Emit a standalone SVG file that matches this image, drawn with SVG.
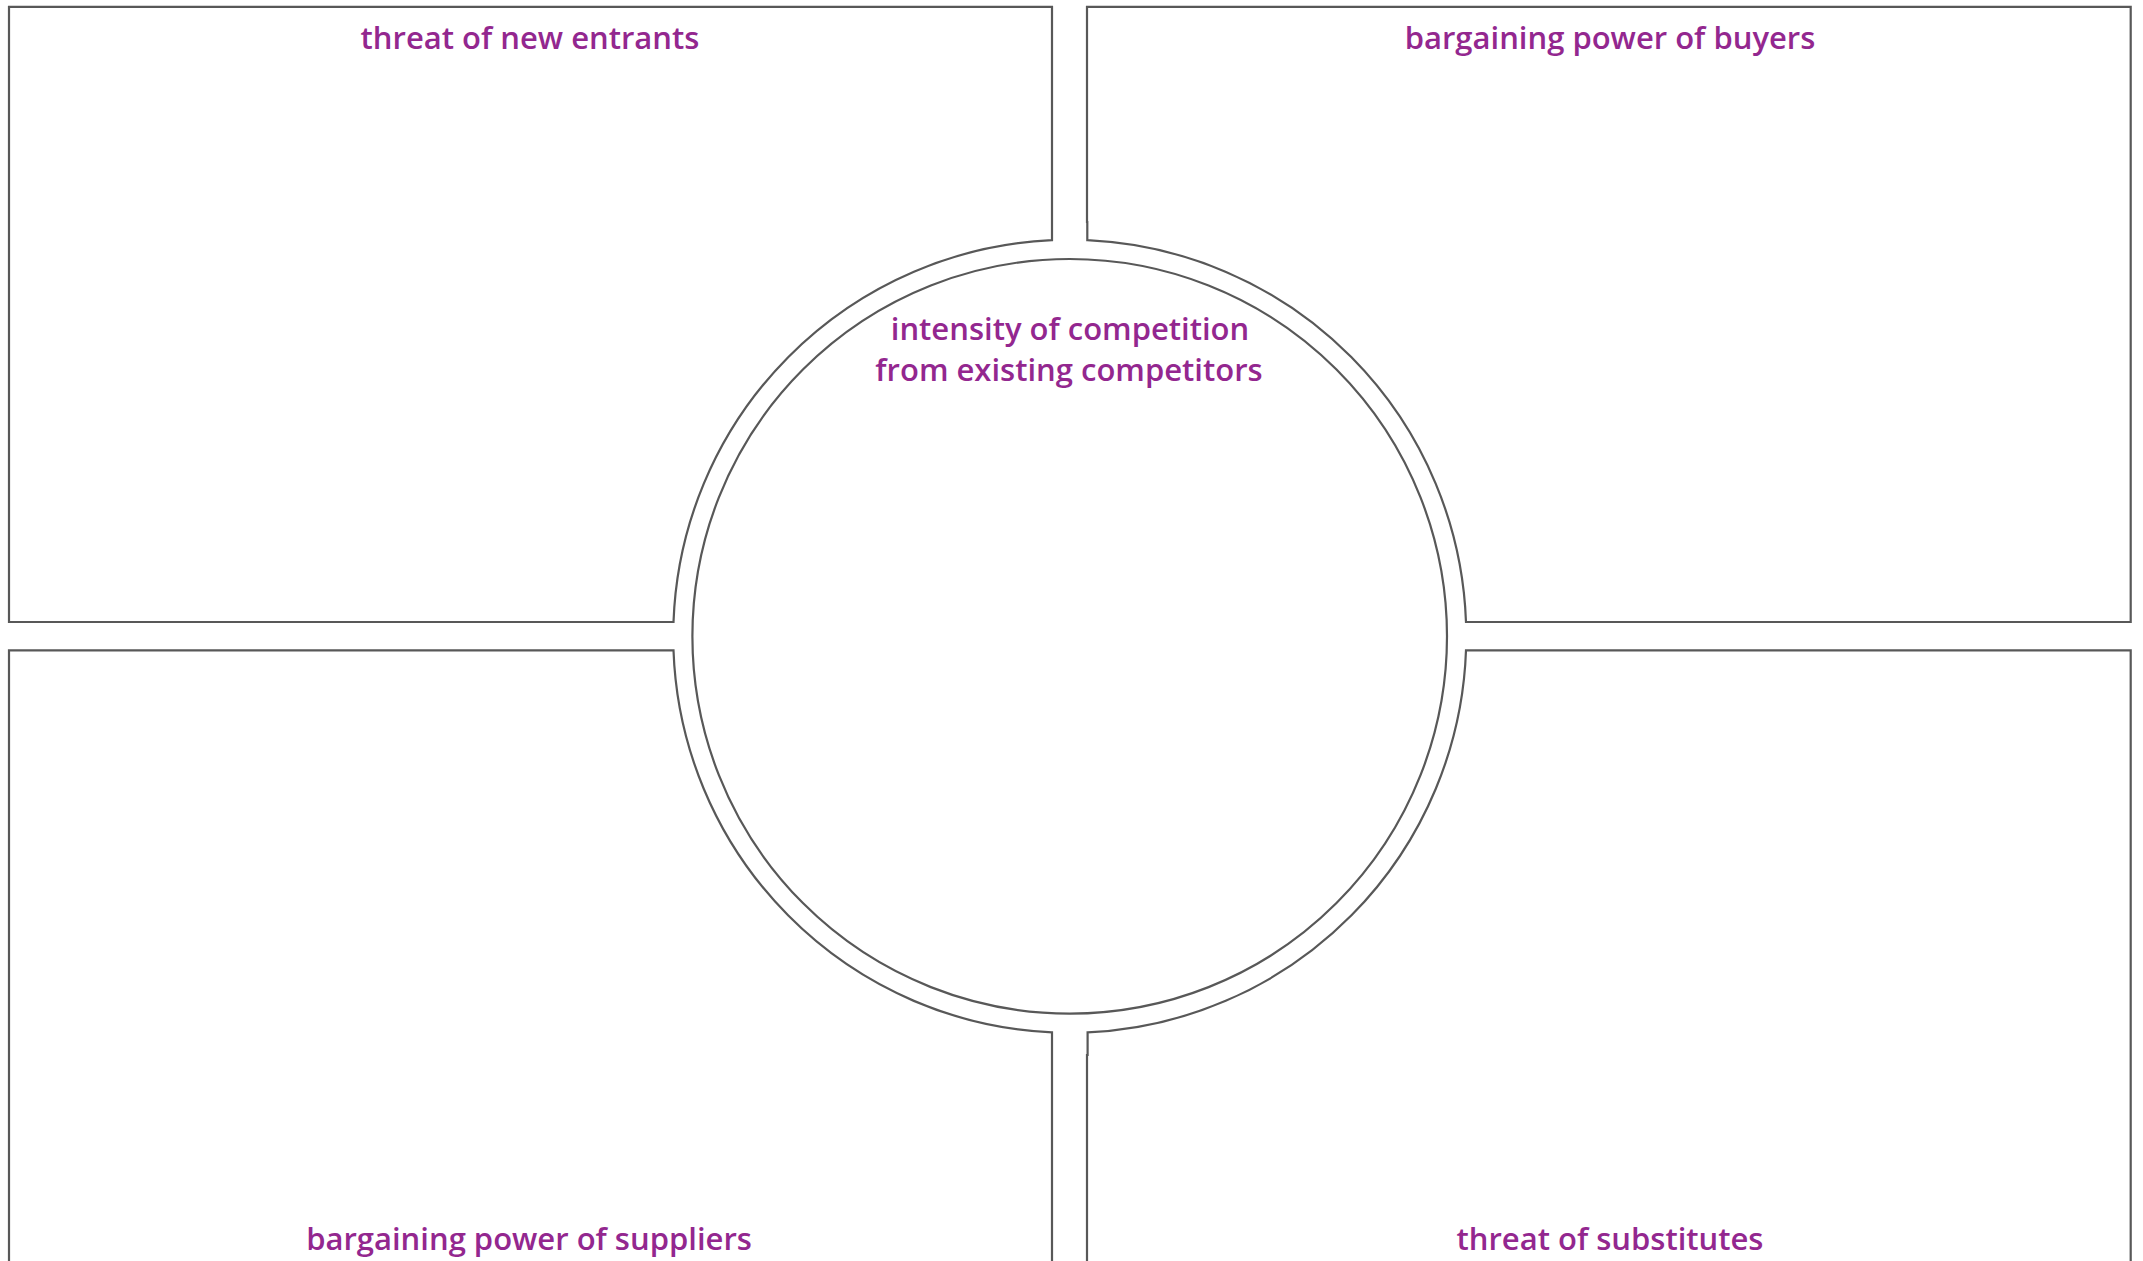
<svg xmlns="http://www.w3.org/2000/svg" width="2143" height="1261" viewBox="0 0 2143 1261">
<style>
  .box { fill: #ffffff; stroke: #585858; stroke-width: 2.2; }
  .lbl { font-family: "Open Sans", "Liberation Sans", sans-serif; font-weight: 600; font-size: 31px; fill: #93278f; text-anchor: middle; }
</style>
<rect x="0" y="0" width="2143" height="1261" fill="#ffffff"/>
<g id="new-entrants">
  <path class="box" d="M 9,6.8 H 1052 V 240.2 A 396.5 396.5 0 0 0 673.5,622 H 9 Z"/>
  <text class="lbl" x="530" y="48.5">threat of new entrants</text>
</g>
<g id="buyers">
  <path class="box" d="M 1087,6.8 H 2130.7 V 622 H 1466 A 396.5 396.5 0 0 0 1087.3,240.2 V 222 H 1087 Z"/>
  <text class="lbl" x="1610" y="48.5">bargaining power of buyers</text>
</g>
<g id="suppliers">
  <path class="box" d="M 9,1272 V 650.3 H 673.5 A 396.5 396.5 0 0 0 1052,1032.4 V 1272"/>
  <text class="lbl" x="529" y="1249.5">bargaining power of suppliers</text>
</g>
<g id="substitutes">
  <path class="box" d="M 1087,1272 V 1055 H 1087.6 V 1032.4 A 396.5 396.5 0 0 0 1466,650.3 H 2130.7 V 1272"/>
  <text class="lbl" x="1610" y="1249.5">threat of substitutes</text>
</g>
<g id="rivalry">
  <circle class="box" cx="1069.7" cy="636.3" r="377.3"/>
  <text class="lbl" x="1070" y="339.5">intensity of competition</text>
  <text class="lbl" x="1069" y="380.5">from existing competitors</text>
</g>
<g id="connectors"></g>
</svg>
